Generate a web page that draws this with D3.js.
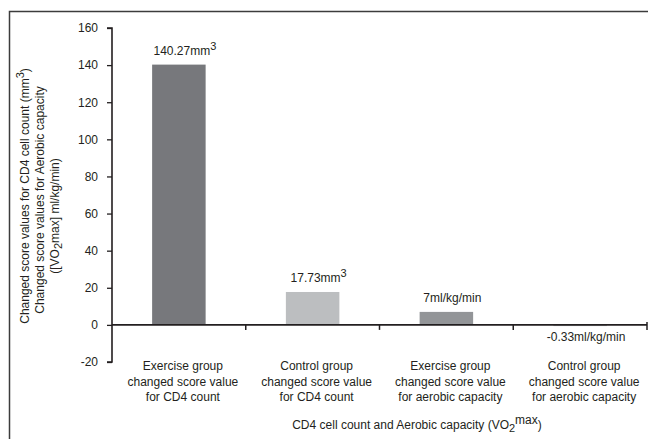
<!DOCTYPE html>
<html>
<head>
<meta charset="utf-8">
<script src="https://cdn.jsdelivr.net/npm/d3@7"></script>
<style>
  html, body { margin: 0; padding: 0; background: #fff; }
  svg text { font-family: "Liberation Sans", Arial, sans-serif; fill: #231f20; }
</style>
</head>
<body>
<div id="chart"></div>
<script>
// chart values
var categories = [
  ["Exercise group", "changed score value", "for CD4 count"],
  ["Control group", "changed score value", "for CD4 count"],
  ["Exercise group", "changed score value", "for aerobic capacity"],
  ["Control group", "changed score value", "for aerobic capacity"]
];
var values = [140.27, 17.73, 7, -0.33];
var valueText = ["140.27mm", "17.73mm", "7ml/kg/min", "-0.33ml/kg/min"];
var valueSup = ["3", "3", "", ""];
var barColors = ["#77787c", "#bcbec0", "#939598", "#bcbec0"];
var yTicks = [-20, 0, 20, 40, 60, 80, 100, 120, 140, 160];

var width = 648, height = 439;

var svg = d3.select('#chart')
  .append('svg')
    .attr('width', width)
    .attr('height', height);

// outer frame (right and bottom edges fall outside the picture)
svg.append('rect')
  .attr('x', 9.5).attr('y', 11.5)
  .attr('width', 700).attr('height', 500)
  .style('fill', 'none')
  .style('stroke', '#3c3c3c')
  .style('stroke-width', 1.5);

var x = d3.scaleBand()
  .domain(d3.range(categories.length))
  .range([112, 647])
  .paddingInner(0).paddingOuter(0);

var y = d3.scaleLinear()
  .domain([-20, 160])
  .range([362, 28]);

var barW = x.bandwidth() * 0.4;

// bars
svg.append('g').selectAll('rect')
    .data(values)
  .enter()
  .append('rect')
    .attr('x', function(d, i) { return x(i) + (x.bandwidth() - barW) / 2; })
    .attr('y', function(d) { return y(Math.max(0, d)); })
    .attr('width', barW)
    .attr('height', function(d) { return Math.max(Math.abs(y(d) - y(0)), 1.2); })
    .style('fill', function(d, i) { return barColors[i]; });

// y axis (plain hyphen for negatives, as in the original)
var yAxis = svg.append('g')
  .attr('transform', 'translate(112,0)')
  .call(d3.axisLeft(y)
    .tickValues(yTicks)
    .tickFormat(function(d) { return String(d); })
    .tickSize(5).tickPadding(9));
yAxis.select('.domain').style('stroke', '#231f20').style('stroke-width', 1.6)
  .attr('d', 'M-5,' + y(160) + 'H0V' + y(-20) + 'H-5');
yAxis.selectAll('.tick line').style('stroke', '#231f20').style('stroke-width', 1.3);
yAxis.selectAll('.tick text')
  .style('font-size', '12px')
  .style('font-family', '"Liberation Sans", Arial, sans-serif')
  .style('fill', '#231f20');

// x axis along zero
var xAxisG = svg.append('g');
xAxisG.append('line')
  .attr('x1', 112).attr('x2', 647)
  .attr('y1', y(0)).attr('y2', y(0))
  .style('stroke', '#231f20')
  .style('stroke-width', 1.8);
xAxisG.selectAll('line.tk')
    .data(d3.range(1, categories.length + 1))
  .enter()
  .append('line')
    .attr('class', 'tk')
    .attr('x1', function(i) { return i < categories.length ? x(i) : 647; })
    .attr('x2', function(i) { return i < categories.length ? x(i) : 647; })
    .attr('y1', function(i) { return i < categories.length ? y(0) : y(0) - 3; })
    .attr('y2', y(0) + 5)
    .style('stroke', '#231f20')
    .style('stroke-width', 1.5);

// value labels
var labels = svg.append('g').selectAll('text')
    .data(values)
  .enter()
  .append('text')
    .attr('text-anchor', 'middle')
    .style('font-size', '12px')
    .attr('x', function(d, i) { return x(i) + x.bandwidth() / 2 + 6; })
    .attr('y', function(d) { return d >= 0 ? y(d) - 10 : y(0) + 16; });
labels.append('tspan').text(function(d, i) { return valueText[i]; });
labels.append('tspan')
  .attr('dy', -5)
  .style('font-size', '11px')
  .text(function(d, i) { return valueSup[i]; });

// category labels
svg.append('g').selectAll('text')
    .data(categories)
  .enter()
  .append('text')
    .attr('text-anchor', 'middle')
    .style('font-size', '12px')
    .attr('transform', function(d, i) {
      return 'translate(' + (x(i) + x.bandwidth() / 2 + 4) + ',370)';
    })
  .selectAll('tspan')
    .data(function(d) { return d; })
  .enter()
  .append('tspan')
    .attr('x', 0)
    .attr('y', function(d, j) { return j * 15.5; })
    .text(function(d) { return d; });

// x title
var xt = svg.append('text')
  .attr('text-anchor', 'middle')
  .attr('x', 417).attr('y', 429)
  .style('font-size', '12px');
xt.append('tspan').text('CD4 cell count and Aerobic capacity (VO');
xt.append('tspan').attr('dy', 3).style('font-size', '11px').text('2');
xt.append('tspan').attr('dy', -8).text('max');
xt.append('tspan').attr('dy', 5).text(')');

// y title, three rotated lines
var yt1 = svg.append('text')
  .attr('text-anchor', 'middle')
  .attr('transform', 'translate(29,196) rotate(-90)')
  .style('font-size', '12px');
yt1.append('tspan').text('Changed score values for CD4 cell count (mm');
yt1.append('tspan').attr('dy', -5).style('font-size', '11px').text('3');
yt1.append('tspan').attr('dy', 5).text(')');

svg.append('text')
  .attr('text-anchor', 'middle')
  .attr('transform', 'translate(44,200) rotate(-90)')
  .style('font-size', '12px')
  .text('Changed score values for Aerobic capacity');

var yt3 = svg.append('text')
  .attr('text-anchor', 'middle')
  .attr('transform', 'translate(59,216) rotate(-90)')
  .style('font-size', '12px');
yt3.append('tspan').text('([VO');
yt3.append('tspan').attr('dy', 3).style('font-size', '11px').text('2');
yt3.append('tspan').attr('dy', -3).text('max] ml/kg/min)');
</script>
</body>
</html>
